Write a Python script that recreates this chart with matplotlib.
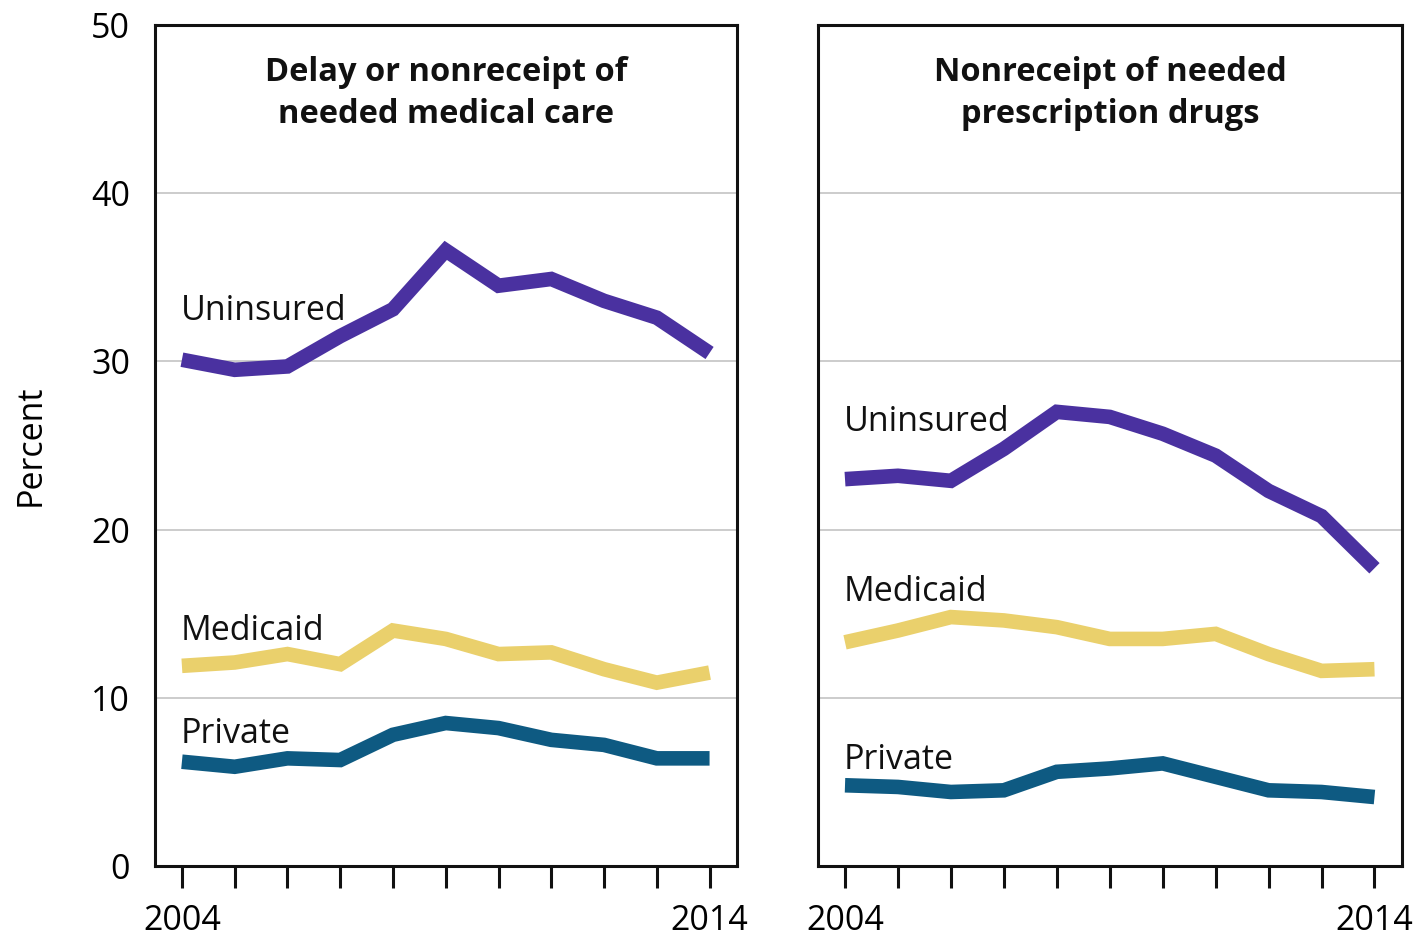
import matplotlib
matplotlib.use("Agg")
import matplotlib.pyplot as plt

years = list(range(2004, 2015))

care_uninsured = [30.1, 29.5, 29.7, 31.5, 33.1, 36.6, 34.5, 34.9, 33.6, 32.6, 30.5]
care_medicaid = [11.9, 12.1, 12.6, 12.0, 14.0, 13.5, 12.6, 12.7, 11.7, 10.9, 11.5]
care_private = [6.2, 5.9, 6.4, 6.3, 7.8, 8.5, 8.2, 7.5, 7.2, 6.4, 6.4]

drug_uninsured = [23.0, 23.2, 22.9, 24.8, 27.0, 26.7, 25.7, 24.4, 22.3, 20.8, 17.7]
drug_medicaid = [13.3, 14.0, 14.8, 14.6, 14.2, 13.5, 13.5, 13.8, 12.6, 11.6, 11.7]
drug_private = [4.8, 4.7, 4.4, 4.5, 5.6, 5.8, 6.1, 5.3, 4.5, 4.4, 4.1]

titles = ["Delay or nonreceipt of\nneeded medical care",
          "Nonreceipt of needed\nprescription drugs"]
series_names = ["Uninsured", "Medicaid", "Private"]
yticks = [0, 10, 20, 30, 40, 50]
xtick_labels = ["2004", "", "", "", "", "", "", "", "", "", "2014"]

colors = {"Uninsured": "#4a31a0", "Medicaid": "#ead06c", "Private": "#0e5a82"}

plt.rcParams['font.family'] = ['Open Sans', 'DejaVu Sans']

W, H = 1419, 936
fig = plt.figure(figsize=(W / 100, H / 100), dpi=100)

ax_bottom = (936 - 866) / H
ax_h = (866 - 25) / H
ax1 = fig.add_axes([155 / W, ax_bottom, (737 - 155) / W, ax_h])
ax2 = fig.add_axes([818 / W, ax_bottom, (1402 - 818) / W, ax_h])

panels = [
    (ax1, [care_uninsured, care_medicaid, care_private],
     [(2003.98, 33.0), (2003.98, 14.0), (2003.98, 7.85)]),
    (ax2, [drug_uninsured, drug_medicaid, drug_private],
     [(2003.98, 26.4), (2003.98, 16.3), (2003.98, 6.3)]),
]

for i, (ax, data, label_pos) in enumerate(panels):
    ax.set_xlim(2003.49, 2014.52)
    ax.set_ylim(0, 50)
    ax.set_yticks(yticks)
    for y in yticks[1:-1]:
        ax.axhline(y, color="#c4c4c4", lw=1.2, zorder=1)
    for name, vals, (lx, ly) in zip(series_names, data, label_pos):
        ax.plot(years, vals, color=colors[name], lw=10.5, solid_capstyle="butt",
                solid_joinstyle="miter", zorder=3)
        ax.text(lx, ly, name, fontsize=24.5, ha="left", va="center", color="#111111")
    for s in ax.spines.values():
        s.set_linewidth(2.2)
        s.set_color("#111111")
    ax.set_xticks(years)
    ax.set_xticklabels(xtick_labels)
    ax.tick_params(axis="x", direction="out", length=16, width=2.2, pad=11,
                   labelsize=24.5, color="#111111")
    ax.tick_params(axis="y", length=0, labelsize=24.5, pad=18)
    if i == 1:
        ax.set_yticklabels([])
    ax.text(0.5, 0.963, titles[i], transform=ax.transAxes, ha="center", va="top",
            fontsize=23.5, fontweight="bold", linespacing=1.35, color="#111111")

ax1.set_ylabel("Percent", fontsize=24.5, labelpad=31)

fig.savefig("out.png", dpi=100)
